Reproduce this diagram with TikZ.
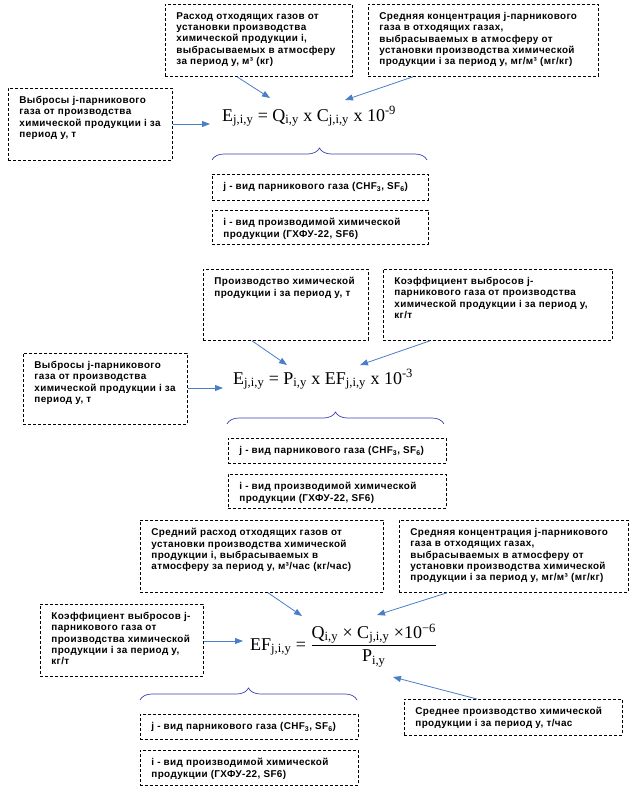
\documentclass[tikz,border=0pt]{standalone}
\usepackage{fontspec}
\setmainfont{Liberation Sans}
\newfontfamily\tnr{Liberation Serif}
\newfontfamily\boxfont[LetterSpace=4]{Liberation Sans}
\usetikzlibrary{arrows.meta,decorations.pathreplacing,calc}
\definecolor{arrblue}{RGB}{74,126,200}
\definecolor{bracecol}{RGB}{60,64,175}
\tikzset{
  dbox/.style={draw, dash pattern=on 3pt off 2pt, line width=0.8pt, anchor=north west,
    inner xsep=0pt, inner ysep=8pt, font=\boxfont\bfseries\fontsize{9.9}{11.3}\selectfont},
  conn/.style={draw=arrblue, line width=0.8pt, -{Triangle[length=8pt,width=6pt]}},
  formula/.style={anchor=base west, inner sep=0pt, font=\tnr\fontsize{18}{20}\selectfont},
  bracest/.style={draw=bracecol, line width=0.7pt, decorate, decoration={brace, amplitude=12pt}},
}
\newcommand\dbox[6]{\node[dbox] (#1) at (#2,#3)
  {\hspace*{11pt}\parbox[t][\dimexpr #5pt-16pt\relax][t]{\dimexpr #4pt-11pt\relax}{\raggedright #6}};}
\begin{document}
\begin{tikzpicture}[x=1pt,y=-1pt]
\useasboundingbox (0,0) rectangle (634,788);
% ---------- section 1
\dbox{A}{165}{4}{187}{72}{Расход отходящих газов от\\установки производства\\химической продукции i,\\выбрасываемых в атмосферу\\за период y, м³ (кг)}
\dbox{B}{368}{4}{230}{72}{Средняя концентрация j-парникового\\газа в отходящих газах,\\выбрасываемых в атмосферу от\\установки производства химической\\продукции i за период y, мг/м³ (мг/кг)}
\dbox{C}{8}{88}{164}{72}{Выбросы j-парникового\\газа от производства\\химической продукции i за\\период y, т}
\node[formula] (f1) at (222,121) {E\textsubscript{j,i,y} = Q\textsubscript{i,y} x C\textsubscript{j,i,y} x 10\textsuperscript{-9}};
\coordinate (t1a) at (270,98);
\coordinate (t1b) at (345,100);
\coordinate (t1c) at (210,124);
\draw[conn] ($(A.south west)+(72,0)$) -- (t1a);
\draw[conn] ($(B.south west)+(45,0)$) -- (t1b);
\draw[conn] (C.east |- t1c) -- (t1c);
\draw[bracest] (212,160) -- (427,160);
\dbox{D}{212}{174}{216}{26}{j - вид парникового газа (CHF\textsubscript{3}, SF\textsubscript{6})}
\dbox{E}{212}{210}{216}{34}{i - вид производимой химической\\продукции (ГХФУ-22, SF6)}
% ---------- section 2
\dbox{F}{203}{269}{165}{71}{Производство химической\\продукции i за период y, т}
\dbox{G}{383}{269}{229}{71}{Коэффициент выбросов j-\\парникового газа от производства\\химической продукции i за период y,\\кг/т}
\dbox{H}{23}{353}{164}{71}{Выбросы j-парникового\\газа от производства\\химической продукции i за\\период y, т}
\node[formula] (f2) at (233,384) {E\textsubscript{j,i,y} = P\textsubscript{i,y} x EF\textsubscript{j,i,y} x 10\textsuperscript{-3}};
\coordinate (t2a) at (287,365);
\coordinate (t2b) at (360,365);
\coordinate (t2c) at (223,388);
\draw[conn] ($(F.south west)+(49,0)$) -- (t2a);
\draw[conn] ($(G.south west)+(47,0)$) -- (t2b);
\draw[conn] (H.east |- t2c) -- (t2c);
\draw[bracest] (227,424) -- (444,424);
\dbox{I}{228}{438}{218}{25}{j - вид парникового газа (CHF\textsubscript{3}, SF\textsubscript{6})}
\dbox{J}{228}{474}{218}{34}{i - вид производимой химической\\продукции (ГХФУ-22, SF6)}
% ---------- section 3
\dbox{K}{140}{520}{243}{72}{Средний расход отходящих газов от\\установки производства химической\\продукции i, выбрасываемых в\\атмосферу за период y, м³/час (кг/час)}
\dbox{L}{399}{520}{229}{72}{Средняя концентрация j-парникового\\газа в отходящих газах,\\выбрасываемых в атмосферу от\\установки производства химической\\продукции i за период y, мг/м³ (мг/кг)}
\dbox{M}{40}{604}{163}{72}{Коэффициент выбросов j-\\парникового газа от\\производства химической\\продукции i за период y,\\кг/т}
\node[formula] (f3) at (250,650) {EF\textsubscript{j,i,y} = $\displaystyle\frac{\hbox{Q\textsubscript{i,y} × C\textsubscript{j,i,y} ×10\textsuperscript{−6}}}{\hbox{P\textsubscript{i,y}}}$};
\coordinate (t3a) at (302,616);
\coordinate (t3b) at (377,615);
\coordinate (t3c) at (243,641);
\coordinate (t3d) at (393,677);
\draw[conn] ($(K.south west)+(128,0)$) -- (t3a);
\draw[conn] ($(L.south west)+(48,0)$) -- (t3b);
\draw[conn] (M.east |- t3c) -- (t3c);
\draw[bracest] (140,700) -- (357,700);
\dbox{N}{404}{699}{218}{36}{Среднее производство химической\\продукции i за период y, т/час}
\draw[conn] ($(N.north west)+(73,0)$) -- (t3d);
\dbox{O}{140}{714}{218}{25}{j - вид парникового газа (CHF\textsubscript{3}, SF\textsubscript{6})}
\dbox{P}{140}{750}{218}{35}{i - вид производимой химической\\продукции (ГХФУ-22, SF6)}
\end{tikzpicture}
\end{document}
